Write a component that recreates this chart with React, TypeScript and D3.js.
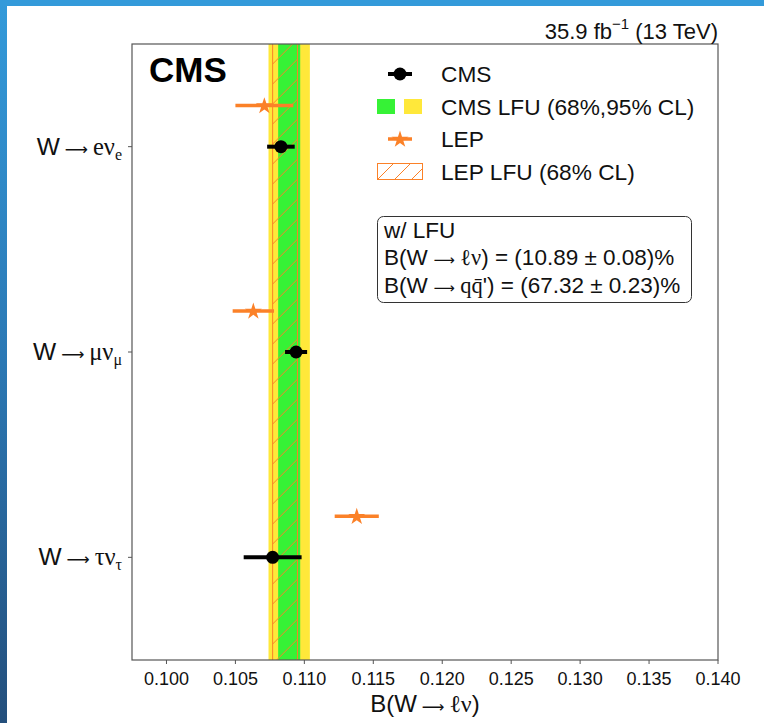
import React from 'react';
import * as d3 from 'd3';

// Decay channels (lepton flavour shown as W -> l nu_l)
const channels = ['e', 'μ', 'τ'];
const neutrinoSubs = ['e', 'μ', 'τ'];

// Per-channel branching fractions and uncertainties
const cmsValues = [0.1083, 0.1094, 0.1077];
const cmsErrors = [0.001, 0.0008, 0.0021];
const lepValues = [0.1071, 0.1063, 0.1138];
const lepErrors = [0.0021, 0.0015, 0.0016];

// Lepton-flavour-universality combined results
const cmsLfuValue = 0.1089;
const cmsLfu68 = 0.0008;
const cmsLfu95 = 0.0015;
const lepLfuValue = 0.1086;
const lepLfu68 = 0.0009;

const xTicks = [0.1, 0.105, 0.11, 0.115, 0.12, 0.125, 0.13, 0.135, 0.14];
const xDomain = [0.0975, 0.14];

const legendLabels = ['CMS', 'CMS LFU (68%,95% CL)', 'LEP', 'LEP LFU (68% CL)'];

const W = 764;
const H = 723;
const plot = { left: 132, right: 718, top: 44, bottom: 660 };

const ORANGE = '#fb8128';
const GREEN = '#36f236';
const YELLOW = '#ffe83a';
const FRAME = '#555';
const SANS = '"Liberation Sans", Arial, Helvetica, sans-serif';
const SERIF = '"Liberation Serif", "DejaVu Serif", serif';
const ARROW_FONT = '"DejaVu Sans", sans-serif';

export default function App() {
  const x = d3.scaleLinear().domain(xDomain).range([plot.left, plot.right]);
  const y = d3
    .scaleLinear()
    .domain([-0.5, channels.length - 0.5])
    .range([plot.top, plot.bottom]);
  const lepOffset = -0.2;

  const star = d3.symbol(d3.symbolStar, 90)() as string;

  const band = (c: number, hw: number) => ({
    x: x(c - hw),
    w: x(c + hw) - x(c - hw),
  });
  const yb = band(cmsLfuValue, cmsLfu95);
  const gb = band(cmsLfuValue, cmsLfu68);
  const lb = band(lepLfuValue, lepLfu68);

  const legendRowY = [74, 106.5, 139, 171.5];
  const legendTextX = 441;

  // thin, long arrow as used in the math labels
  const arrow = (size: number, gap = '\u2009') => (
    <>
      <tspan>{gap}</tspan>
      <tspan fontFamily={ARROW_FONT} fontSize={size * 0.66}>
        ⟶
      </tspan>
      <tspan>{gap}</tspan>
    </>
  );

  return (
    <svg
      width={W}
      height={H}
      style={{ position: 'absolute', left: 0, top: 0, background: '#fff' }}
    >
      <defs>
        <linearGradient id="edgeBlue" x1="0" y1="0" x2="0" y2="1">
          <stop offset="0" stopColor="#339ada" />
          <stop offset="0.5" stopColor="#2b78b4" />
          <stop offset="1" stopColor="#244f7c" />
        </linearGradient>
        <pattern
          id="lepHatch"
          patternUnits="userSpaceOnUse"
          width={20}
          height={20}
          x={lb.x}
          y={plot.top}
        >
          <path
            d="M0,20 L20,0 M-5,5 L5,-5 M15,25 L25,15"
            stroke={ORANGE}
            strokeWidth={1}
            fill="none"
          />
        </pattern>
        <pattern
          id="legendHatch"
          patternUnits="userSpaceOnUse"
          width={17}
          height={17}
          x={377}
          y={163}
        >
          <path
            d="M0,17 L17,0 M-5,5 L5,-5 M12,22 L22,12"
            stroke={ORANGE}
            strokeWidth={1}
            fill="none"
          />
        </pattern>
        <clipPath id="plotClip">
          <rect
            x={plot.left}
            y={plot.top}
            width={plot.right - plot.left}
            height={plot.bottom - plot.top}
          />
        </clipPath>
      </defs>

      {/* slide edges */}
      <rect x={0} y={0} width={7} height={H} fill="url(#edgeBlue)" />
      <rect x={0} y={0} width={W} height={6} fill="#339ada" />

      {/* LFU bands */}
      <g clipPath="url(#plotClip)">
        <rect x={yb.x} y={plot.top} width={yb.w} height={plot.bottom - plot.top} fill={YELLOW} />
        <rect x={gb.x} y={plot.top} width={gb.w} height={plot.bottom - plot.top} fill={GREEN} />
        <rect
          x={lb.x}
          y={plot.top - 2}
          width={lb.w}
          height={plot.bottom - plot.top + 4}
          fill="url(#lepHatch)"
          stroke={ORANGE}
          strokeWidth={1}
        />
      </g>

      {/* LEP measurements */}
      {lepValues.map((v, i) => {
        const cy = y(i + lepOffset);
        return (
          <g key={`lep-${i}`}>
            <line
              x1={x(v - lepErrors[i])}
              x2={x(v + lepErrors[i])}
              y1={cy}
              y2={cy}
              stroke={ORANGE}
              strokeWidth={3.5}
            />
            <path d={star} transform={`translate(${x(v)},${cy + 0.5})`} fill={ORANGE} />
          </g>
        );
      })}

      {/* CMS measurements */}
      {cmsValues.map((v, i) => {
        const cy = y(i);
        return (
          <g key={`cms-${i}`}>
            <line
              x1={x(v - cmsErrors[i])}
              x2={x(v + cmsErrors[i])}
              y1={cy}
              y2={cy}
              stroke="#000"
              strokeWidth={4}
            />
            <circle cx={x(v)} cy={cy} r={6.5} fill="#000" />
          </g>
        );
      })}

      {/* frame */}
      <rect
        x={plot.left}
        y={plot.top}
        width={plot.right - plot.left}
        height={plot.bottom - plot.top}
        fill="none"
        stroke={FRAME}
        strokeWidth={1.2}
      />

      {/* x axis */}
      {xTicks.map((t) => (
        <g key={`xt-${t}`}>
          <line x1={x(t)} x2={x(t)} y1={plot.bottom} y2={plot.bottom + 4} stroke={FRAME} strokeWidth={1} />
          <text
            x={x(t)}
            y={685}
            textAnchor="middle"
            fontFamily={SANS}
            fontSize={18}
            fill="#111"
          >
            {d3.format('.3f')(t)}
          </text>
        </g>
      ))}
      <text x={(plot.left + plot.right) / 2} y={712} textAnchor="middle" fontSize={24} fill="#111">
        <tspan fontFamily={SANS}>B(W</tspan>
        {arrow(24)}
        <tspan fontFamily={SERIF}>ℓν</tspan>
        <tspan fontFamily={SANS}>)</tspan>
      </text>

      {/* y axis */}
      {channels.map((c, i) => (
        <g key={`yt-${c}`}>
          <line x1={plot.left - 4} x2={plot.left} y1={y(i)} y2={y(i)} stroke={FRAME} strokeWidth={1} />
          <text x={122} y={y(i) + 8} textAnchor="end" fontSize={24.5} fill="#111">
            <tspan fontFamily={SANS}>W</tspan>
            {arrow(24.5)}
            <tspan fontFamily={SERIF}>{c}ν</tspan>
            <tspan fontFamily={SERIF} fontSize={16} dy={5}>
              {neutrinoSubs[i]}
            </tspan>
          </text>
        </g>
      ))}

      {/* header */}
      <text x={plot.right} y={39} textAnchor="end" fontFamily={SANS} fontSize={22} fill="#111">
        <tspan>35.9 fb</tspan>
        <tspan fontSize={15} dy={-10}>−1</tspan>
        <tspan dy={10}> (13 TeV)</tspan>
      </text>
      <text x={149} y={82} fontFamily={SANS} fontWeight="bold" fontSize={35} fill="#000">
        CMS
      </text>

      {/* legend */}
      <g>
        <line x1={388} x2={412} y1={legendRowY[0]} y2={legendRowY[0]} stroke="#000" strokeWidth={4} />
        <circle cx={400} cy={legendRowY[0]} r={6.5} fill="#000" />

        <rect x={377} y={legendRowY[1] - 7.5} width={18} height={15} fill={GREEN} />
        <rect x={404} y={legendRowY[1] - 7.5} width={18} height={15} fill={YELLOW} />

        <line x1={388} x2={412} y1={legendRowY[2]} y2={legendRowY[2]} stroke={ORANGE} strokeWidth={3.5} />
        <path d={star} transform={`translate(400,${legendRowY[2] + 0.5})`} fill={ORANGE} />

        <rect
          x={377.5}
          y={legendRowY[3] - 8}
          width={45}
          height={16}
          fill="url(#legendHatch)"
          stroke={ORANGE}
          strokeWidth={1}
        />

        {legendLabels.map((l, i) => (
          <text
            key={l}
            x={legendTextX}
            y={legendRowY[i] + 8}
            fontFamily={SANS}
            fontSize={22.7}
            fill="#111"
          >
            {l}
          </text>
        ))}
      </g>

      {/* combined result box */}
      <rect x={377.5} y={216.5} width={314} height={86} rx={6} fill="#fff" stroke="#333" strokeWidth={1} />
      <text x={384} y={238} fontFamily={SANS} fontSize={22.5} fill="#111">
        w/ LFU
      </text>
      <text x={384} y={265} fontSize={22.5} fill="#111">
        <tspan fontFamily={SANS}>B(W</tspan>
        {arrow(22.5, '\u2005')}
        <tspan fontFamily={SERIF}>ℓν</tspan>
        <tspan fontFamily={SANS}>) = (10.89 ± 0.08)%</tspan>
      </text>
      <text x={384} y={293} fontSize={22.5} fill="#111">
        <tspan fontFamily={SANS}>B(W</tspan>
        {arrow(22.5, '\u2005')}
        <tspan fontFamily={SERIF}>qq̄</tspan>
        <tspan fontFamily={SANS}>') = (67.32 ± 0.23)%</tspan>
      </text>
    </svg>
  );
}
